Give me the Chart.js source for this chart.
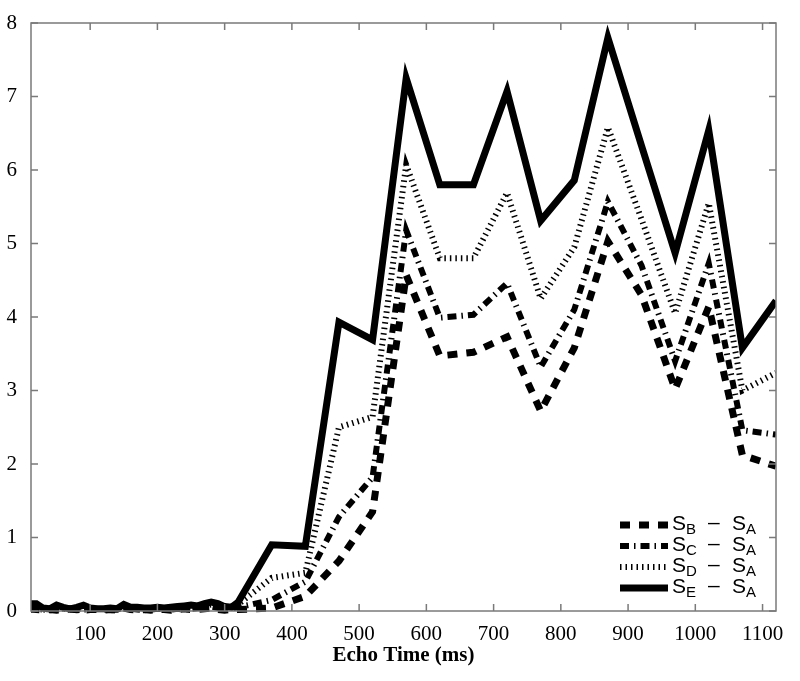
<!DOCTYPE html>
<html>
<head>
<meta charset="utf-8">
<script src="https://cdn.jsdelivr.net/npm/chart.js@4/dist/chart.umd.min.js"></script>
<style>
  html, body { margin: 0; padding: 0; background: #fff; }
  #wrap { width: 800px; height: 681px; }
</style>
</head>
<body>
<div id="wrap"><canvas id="myChart" width="800" height="681"></canvas></div>
<script>
// echo times: 10 ms steps up to 320, then 50 ms steps
var earlyTimes = [10,20,30,40,50,60,70,80,90,100,110,120,130,140,150,160,170,180,190,200,210,220,230,240,250,260,270,280,290,300,310,320];
var lateTimes = [370,420,470,520,570,620,670,720,770,820,870,920,970,1020,1070,1120];

var sbEarly = [0.03,0.02,0.01,0.02,0.01,0.02,0.03,0.02,0.01,0.02,0.02,0.01,0.02,0.01,0.04,0.02,0.01,0.02,0.01,0.02,0.02,0.01,0.02,0.03,0.02,0.02,0.03,0.04,0.02,0.01,0.02,0.02];
var scEarly = [0.02,0.03,0.02,0.01,0.02,0.03,0.02,0.01,0.02,0.02,0.03,0.02,0.01,0.02,0.05,0.03,0.02,0.01,0.02,0.03,0.02,0.02,0.03,0.02,0.03,0.04,0.05,0.06,0.04,0.03,0.03,0.05];
var sdEarly = [0.04,0.03,0.02,0.03,0.04,0.03,0.02,0.03,0.04,0.03,0.02,0.03,0.03,0.02,0.06,0.04,0.03,0.02,0.03,0.04,0.03,0.03,0.04,0.05,0.04,0.05,0.07,0.09,0.07,0.05,0.06,0.09];
var seEarly = [0.1,0.1,0.04,0.03,0.08,0.05,0.03,0.05,0.08,0.04,0.03,0.03,0.04,0.03,0.09,0.05,0.05,0.04,0.04,0.05,0.04,0.05,0.06,0.07,0.08,0.07,0.1,0.12,0.1,0.06,0.05,0.12];

var sbLate = [0.04,0.2,0.68,1.35,4.57,3.47,3.52,3.73,2.72,3.58,5.03,4.3,3.02,4.14,2.12,1.97];
var scLate = [0.15,0.4,1.28,1.82,5.18,3.99,4.03,4.46,3.32,4.1,5.57,4.7,3.4,4.73,2.46,2.4];
var sdLate = [0.45,0.52,2.5,2.64,6.07,4.8,4.8,5.69,4.25,4.95,6.58,5.33,4.05,5.55,3.0,3.24];
var seLate = [0.9,0.88,3.93,3.69,7.25,5.8,5.8,7.07,5.31,5.86,7.8,6.33,4.87,6.54,3.58,4.22];

var xTicks = [100,200,300,400,500,600,700,800,900,1000,1100];
var yTicks = [0,1,2,3,4,5,6,7,8];
var legendMain = ["S", "S", "S", "S"];
var legendSub = ["B", "C", "D", "E"];

var times = earlyTimes.concat(lateTimes);
function pts(early, late) {
    var v = early.concat(late);
    return times.map(function (t, i) { return { x: t, y: v[i] }; });
}

var lineStyles = [
    { width: 7, dash: [10, 9] },
    { width: 6, dash: [9, 5, 1.5, 5] },
    { width: 6, dash: [1.5, 4] },
    { width: 7, dash: [] }
];

var series = [pts(sbEarly, sbLate), pts(scEarly, scLate), pts(sdEarly, sdLate), pts(seEarly, seLate)];

var frame = {
    id: "frame",
    afterDraw: function (chart) {
        var ctx = chart.ctx, a = chart.chartArea;
        var xs = chart.scales.x, ys = chart.scales.y;
        ctx.save();
        ctx.strokeStyle = "#7a7a7a";
        ctx.lineWidth = 1.5;
        ctx.strokeRect(a.left, a.top, a.right - a.left, a.bottom - a.top);
        ctx.beginPath();
        xTicks.forEach(function (v) {
            var p = xs.getPixelForValue(v);
            ctx.moveTo(p, a.bottom); ctx.lineTo(p, a.bottom - 7);
            ctx.moveTo(p, a.top); ctx.lineTo(p, a.top + 7);
        });
        yTicks.forEach(function (v) {
            var p = ys.getPixelForValue(v);
            ctx.moveTo(a.left, p); ctx.lineTo(a.left + 7, p);
            ctx.moveTo(a.right, p); ctx.lineTo(a.right - 7, p);
        });
        ctx.stroke();

        // legend, bottom right
        var x0 = 620, x1 = 668, y = 525;
        ctx.fillStyle = "#000";
        ctx.textBaseline = "middle";
        for (var i = 0; i < 4; i++) {
            var yy = y + i * 21;
            ctx.strokeStyle = "#000";
            ctx.lineWidth = lineStyles[i].width;
            ctx.setLineDash(lineStyles[i].dash);
            ctx.beginPath();
            ctx.moveTo(x0, yy); ctx.lineTo(x1, yy);
            ctx.stroke();
            ctx.setLineDash([]);
            ctx.textAlign = "left";
            ctx.font = "21px 'Liberation Sans', Arial, sans-serif";
            ctx.fillText(legendMain[i], 672, yy - 1);
            ctx.fillText("\u2013", 708, yy - 2);
            ctx.fillText("S", 732, yy - 1);
            ctx.font = "15px 'Liberation Sans', Arial, sans-serif";
            ctx.fillText(legendSub[i], 686, yy + 5);
            ctx.fillText("A", 746, yy + 5);
        }
        ctx.restore();
    }
};

new Chart("myChart", {
    type: "line",
    data: {
        datasets: series.map(function (d, i) {
            return {
                data: d,
                borderColor: "#000",
                borderWidth: lineStyles[i].width,
                borderDash: lineStyles[i].dash,
                borderJoinStyle: "miter",
                pointRadius: 0,
                tension: 0,
                fill: false,
                clip: { left: 0, right: 0, top: 0, bottom: 5 }
            };
        })
    },
    options: {
        responsive: false,
        animation: false,
        layout: { padding: { top: 23, right: 24, left: 0, bottom: 0 } },
        plugins: { legend: { display: false }, tooltip: { enabled: false } },
        scales: {
            x: {
                type: "linear",
                min: 12,
                max: 1120,
                afterBuildTicks: function (s) { s.ticks = xTicks.map(function (v) { return { value: v }; }); },
                afterFit: function (s) { s.height = 70; },
                grid: { display: false },
                border: { display: false },
                ticks: {
                    color: "#000",
                    padding: 3,
                    maxRotation: 0,
                    autoSkip: false,
                    callback: function (v) { return String(v); },
                    font: { family: "'Liberation Serif', 'Times New Roman', serif", size: 21 }
                },
                title: {
                    display: true,
                    text: "Echo Time (ms)",
                    color: "#000",
                    padding: { top: 0, bottom: 13 },
                    font: { family: "'Liberation Serif', 'Times New Roman', serif", size: 21, weight: "bold" }
                }
            },
            y: {
                min: 0,
                max: 8,
                afterBuildTicks: function (s) { s.ticks = yTicks.map(function (v) { return { value: v }; }); },
                afterFit: function (s) { s.width = 31; },
                grid: { display: false },
                border: { display: false },
                ticks: {
                    color: "#000",
                    padding: 6,
                    font: { family: "'Liberation Serif', 'Times New Roman', serif", size: 21 }
                }
            }
        }
    },
    plugins: [frame]
});
</script>
</body>
</html>
